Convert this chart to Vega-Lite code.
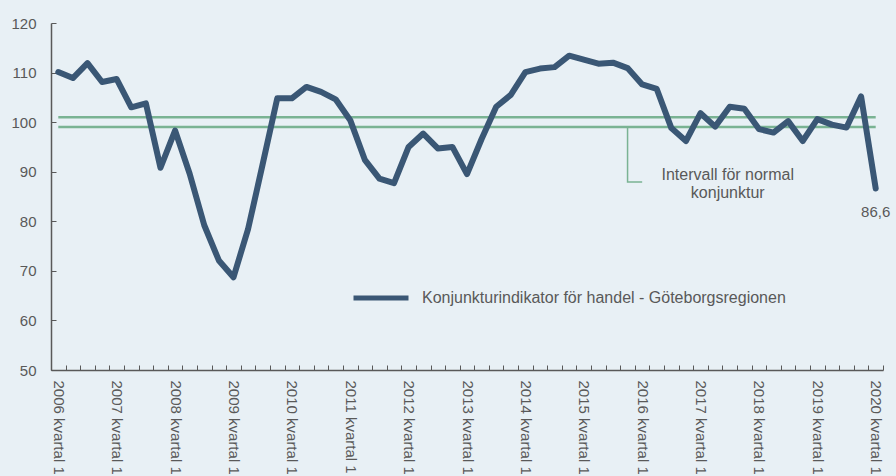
{
  "$schema": "https://vega.github.io/schema/vega-lite/v6.json",
  "width": 832,
  "height": 347,
  "autosize": "none",
  "padding": {"left": 51, "top": 23, "right": 13, "bottom": 106},
  "background": "#e8f0f5",
  "config": {
    "view": {"stroke": null},
    "font": "Liberation Sans",
    "locale": {"number": {"decimal": ",", "thousands": " ", "grouping": [3], "currency": ["", " kr"]}},
    "axis": {
      "domainColor": "#595959",
      "domainWidth": 1.5,
      "tickColor": "#595959",
      "tickWidth": 1,
      "tickSize": -5,
      "labelColor": "#595959",
      "labelFontSize": 15,
      "labelFont": "Liberation Sans",
      "grid": false
    }
  },
  "datasets": {
    "serie": [
      {"kvartal": "2006 kvartal 1", "index": 110.1, "ovre": 101, "nedre": 99},
      {"kvartal": "2006 kvartal 2", "index": 108.9, "ovre": 101, "nedre": 99},
      {"kvartal": "2006 kvartal 3", "index": 111.9, "ovre": 101, "nedre": 99},
      {"kvartal": "2006 kvartal 4", "index": 108.1, "ovre": 101, "nedre": 99},
      {"kvartal": "2007 kvartal 1", "index": 108.7, "ovre": 101, "nedre": 99},
      {"kvartal": "2007 kvartal 2", "index": 103.0, "ovre": 101, "nedre": 99},
      {"kvartal": "2007 kvartal 3", "index": 103.8, "ovre": 101, "nedre": 99},
      {"kvartal": "2007 kvartal 4", "index": 90.8, "ovre": 101, "nedre": 99},
      {"kvartal": "2008 kvartal 1", "index": 98.3, "ovre": 101, "nedre": 99},
      {"kvartal": "2008 kvartal 2", "index": 89.6, "ovre": 101, "nedre": 99},
      {"kvartal": "2008 kvartal 3", "index": 79.2, "ovre": 101, "nedre": 99},
      {"kvartal": "2008 kvartal 4", "index": 72.1, "ovre": 101, "nedre": 99},
      {"kvartal": "2009 kvartal 1", "index": 68.7, "ovre": 101, "nedre": 99},
      {"kvartal": "2009 kvartal 2", "index": 78.4, "ovre": 101, "nedre": 99},
      {"kvartal": "2009 kvartal 3", "index": 91.5, "ovre": 101, "nedre": 99},
      {"kvartal": "2009 kvartal 4", "index": 104.8, "ovre": 101, "nedre": 99},
      {"kvartal": "2010 kvartal 1", "index": 104.8, "ovre": 101, "nedre": 99},
      {"kvartal": "2010 kvartal 2", "index": 107.1, "ovre": 101, "nedre": 99},
      {"kvartal": "2010 kvartal 3", "index": 106.1, "ovre": 101, "nedre": 99},
      {"kvartal": "2010 kvartal 4", "index": 104.6, "ovre": 101, "nedre": 99},
      {"kvartal": "2011 kvartal 1", "index": 100.4, "ovre": 101, "nedre": 99},
      {"kvartal": "2011 kvartal 2", "index": 92.4, "ovre": 101, "nedre": 99},
      {"kvartal": "2011 kvartal 3", "index": 88.6, "ovre": 101, "nedre": 99},
      {"kvartal": "2011 kvartal 4", "index": 87.7, "ovre": 101, "nedre": 99},
      {"kvartal": "2012 kvartal 1", "index": 95.0, "ovre": 101, "nedre": 99},
      {"kvartal": "2012 kvartal 2", "index": 97.7, "ovre": 101, "nedre": 99},
      {"kvartal": "2012 kvartal 3", "index": 94.7, "ovre": 101, "nedre": 99},
      {"kvartal": "2012 kvartal 4", "index": 95.0, "ovre": 101, "nedre": 99},
      {"kvartal": "2013 kvartal 1", "index": 89.5, "ovre": 101, "nedre": 99},
      {"kvartal": "2013 kvartal 2", "index": 96.6, "ovre": 101, "nedre": 99},
      {"kvartal": "2013 kvartal 3", "index": 103.1, "ovre": 101, "nedre": 99},
      {"kvartal": "2013 kvartal 4", "index": 105.5, "ovre": 101, "nedre": 99},
      {"kvartal": "2014 kvartal 1", "index": 110.1, "ovre": 101, "nedre": 99},
      {"kvartal": "2014 kvartal 2", "index": 110.8, "ovre": 101, "nedre": 99},
      {"kvartal": "2014 kvartal 3", "index": 111.1, "ovre": 101, "nedre": 99},
      {"kvartal": "2014 kvartal 4", "index": 113.4, "ovre": 101, "nedre": 99},
      {"kvartal": "2015 kvartal 1", "index": 112.6, "ovre": 101, "nedre": 99},
      {"kvartal": "2015 kvartal 2", "index": 111.8, "ovre": 101, "nedre": 99},
      {"kvartal": "2015 kvartal 3", "index": 112.0, "ovre": 101, "nedre": 99},
      {"kvartal": "2015 kvartal 4", "index": 110.9, "ovre": 101, "nedre": 99},
      {"kvartal": "2016 kvartal 1", "index": 107.6, "ovre": 101, "nedre": 99},
      {"kvartal": "2016 kvartal 2", "index": 106.7, "ovre": 101, "nedre": 99},
      {"kvartal": "2016 kvartal 3", "index": 98.8, "ovre": 101, "nedre": 99},
      {"kvartal": "2016 kvartal 4", "index": 96.2, "ovre": 101, "nedre": 99},
      {"kvartal": "2017 kvartal 1", "index": 101.8, "ovre": 101, "nedre": 99},
      {"kvartal": "2017 kvartal 2", "index": 99.1, "ovre": 101, "nedre": 99},
      {"kvartal": "2017 kvartal 3", "index": 103.1, "ovre": 101, "nedre": 99},
      {"kvartal": "2017 kvartal 4", "index": 102.7, "ovre": 101, "nedre": 99},
      {"kvartal": "2018 kvartal 1", "index": 98.6, "ovre": 101, "nedre": 99},
      {"kvartal": "2018 kvartal 2", "index": 97.9, "ovre": 101, "nedre": 99},
      {"kvartal": "2018 kvartal 3", "index": 100.2, "ovre": 101, "nedre": 99},
      {"kvartal": "2018 kvartal 4", "index": 96.2, "ovre": 101, "nedre": 99},
      {"kvartal": "2019 kvartal 1", "index": 100.6, "ovre": 101, "nedre": 99},
      {"kvartal": "2019 kvartal 2", "index": 99.5, "ovre": 101, "nedre": 99},
      {"kvartal": "2019 kvartal 3", "index": 98.9, "ovre": 101, "nedre": 99},
      {"kvartal": "2019 kvartal 4", "index": 105.2, "ovre": 101, "nedre": 99},
      {"kvartal": "2020 kvartal 1", "index": 86.6, "ovre": 101, "nedre": 99}
    ],
    "callout": [
      {"kvartal": "2015 kvartal 4", "varde": 99, "steg": 1},
      {"kvartal": "2015 kvartal 4", "varde": 87.9, "steg": 2},
      {"kvartal": "2016 kvartal 1", "varde": 87.9, "steg": 3}
    ]
  },
  "layer": [
    {
      "data": {"name": "serie"},
      "mark": {"type": "line", "color": "#7ab393", "strokeWidth": 2.5},
      "encoding": {
        "x": {"field": "kvartal", "type": "ordinal", "scale": {"type": "band", "paddingInner": 0, "paddingOuter": 0},
          "axis": {"title": null, "labelAngle": 90, "labelAlign": "left", "labelBaseline": "middle", "labelPadding": 15, "tickBand": "extent", "labelOverlap": false, "labelExpr": "indexof(datum.label, 'kvartal 1') >= 0 ? datum.label : ''"}},
        "y": {"field": "ovre", "type": "quantitative", "scale": {"domain": [50, 120], "nice": false, "zero": false},
          "axis": {"title": null, "values": [50, 60, 70, 80, 90, 100, 110, 120], "labelPadding": 20}}
      }
    },
    {
      "data": {"name": "serie"},
      "mark": {"type": "line", "color": "#7ab393", "strokeWidth": 2.5},
      "encoding": {
        "x": {"field": "kvartal", "type": "ordinal"},
        "y": {"field": "nedre", "type": "quantitative"}
      }
    },
    {
      "data": {"name": "callout"},
      "mark": {"type": "line", "color": "#7ab393", "strokeWidth": 1.5},
      "encoding": {
        "x": {"field": "kvartal", "type": "ordinal"},
        "y": {"field": "varde", "type": "quantitative"},
        "order": {"field": "steg", "type": "quantitative"}
      }
    },
    {
      "data": {"name": "serie"},
      "mark": {"type": "line", "strokeWidth": 6, "strokeCap": "round", "strokeJoin": "round"},
      "encoding": {
        "x": {"field": "kvartal", "type": "ordinal"},
        "y": {"field": "index", "type": "quantitative"},
        "color": {"datum": "Konjunkturindikator för handel - Göteborgsregionen", "type": "nominal",
          "scale": {"range": ["#3a5775"]},
          "legend": {"title": null, "orient": "none", "legendX": 300, "legendY": 245, "padding": 0,
            "symbolType": "stroke", "symbolSize": 3025, "symbolStrokeWidth": 5, "symbolStrokeColor": "#3a5775",
            "labelFontSize": 16, "labelFont": "Liberation Sans", "labelColor": "#595959", "labelOffset": 11, "labelLimit": 0}}
      }
    },
    {
      "data": {"name": "serie"},
      "transform": [{"filter": "datum.kvartal === '2020 kvartal 1'"}],
      "mark": {"type": "text", "dy": 23, "fontSize": 15, "color": "#595959", "align": "center", "baseline": "middle"},
      "encoding": {
        "x": {"field": "kvartal", "type": "ordinal"},
        "y": {"field": "index", "type": "quantitative"},
        "text": {"field": "index", "type": "quantitative", "format": ".1f"}
      }
    },
    {
      "data": {"values": [{"kvartal": "2017 kvartal 3", "varde": 91.0}]},
      "mark": {"type": "text", "text": ["Intervall för normal", "konjunktur"], "lineHeight": 18, "fontSize": 16, "color": "#595959", "align": "center", "baseline": "top", "dx": -2},
      "encoding": {
        "x": {"field": "kvartal", "type": "ordinal"},
        "y": {"field": "varde", "type": "quantitative"}
      }
    }
  ]
}
